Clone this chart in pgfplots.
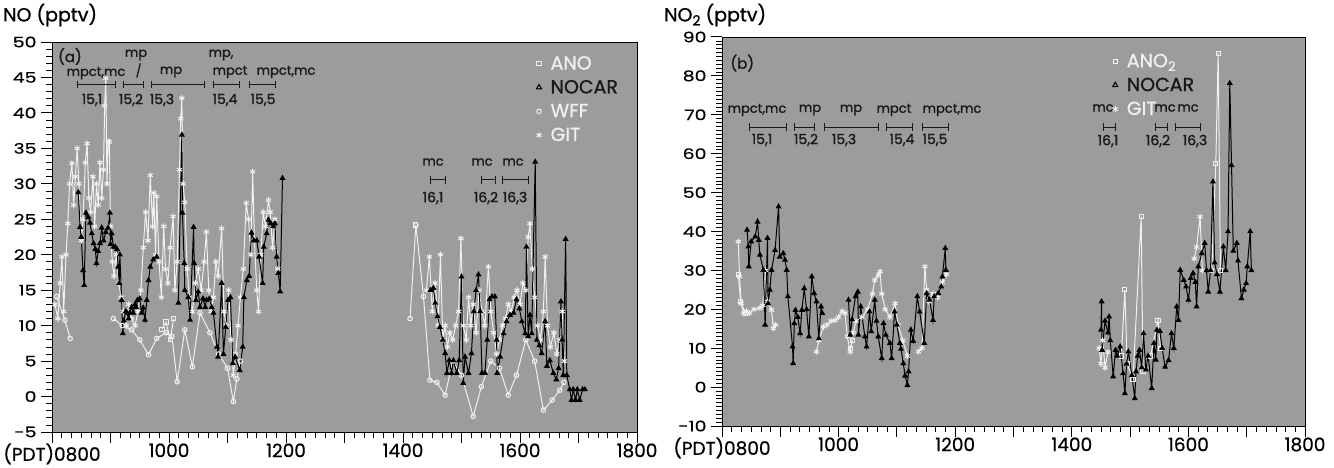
\documentclass[border=0pt]{standalone}
\usepackage{pgfplots}
\pgfplotsset{compat=1.18}
\usepackage{pgfplotstable}
\usepackage{fontspec}
\setmainfont{Poppins}
\newfontfamily\widefont{Poppins}[FakeStretch=1.3, FakeBold=0.6]
\newfontfamily\tickfont{Poppins}[FakeBold=0.6]
\newfontfamily\annfont{Poppins}[FakeBold=1.2]
\newfontfamily\legfont{Poppins}[FakeBold=1.0]
\definecolor{bg}{RGB}{156,156,156}
\definecolor{wl}{RGB}{240,240,240}
\definecolor{ink}{RGB}{25,25,25}

% ---------------- panel (a) data ----------------
\pgfplotstableread{
t v
8.45 28.8
8.48 23.9
8.50 22.5
8.53 17.8
8.55 15.7
8.58 25.9
8.62 25.3
8.65 24.5
8.68 23.0
8.71 21.6
8.74 20.8
8.76 18.8
8.79 20.5
8.82 21.6
8.85 23.8
8.88 22.0
8.92 23.2
8.96 23.8
8.99 25.9
9.00 21.5
9.02 23.0
9.05 21.1
9.08 21.1
9.11 20.8
9.13 18.3
9.15 16.0
9.16 20.0
9.19 13.6
9.21 8.9
9.23 10.7
9.26 12.0
9.28 11.8
9.31 11.0
9.33 11.8
9.36 12.6
9.39 11.8
9.42 13.0
9.44 12.6
9.46 13.6
9.50 13.8
9.53 11.8
9.56 12.5
9.59 10.8
9.62 13.6
9.65 16.4
9.68 18.3
9.73 19.3
9.79 19.7
nan nan
10.16 13.2
10.22 36.9
10.23 25.9
10.26 18.8
10.27 15.0
10.33 14.0
10.36 10.8
10.42 23.9
10.43 18.8
10.46 13.6
10.50 14.8
10.53 12.6
10.58 13.8
10.62 12.6
10.64 13.6
10.69 13.8
10.73 12.6
10.76 11.8
10.82 7.0
10.84 5.6
10.90 16.0
10.93 6.0
10.97 9.8
11.01 13.6
11.05 14.0
11.09 4.7
11.13 5.6
11.21 3.7
11.26 7.0
11.28 14.0
11.33 16.4
11.37 17.0
11.41 23.1
11.45 22.0
11.50 22.0
11.54 19.7
11.60 16.0
11.62 21.1
11.67 23.0
11.70 24.9
11.74 24.4
11.78 24.0
11.81 24.4
11.84 19.7
11.87 17.4
11.90 14.8
11.94 30.8
nan nan
14.47 15.0
14.52 15.3
14.55 13.2
14.59 11.3
14.63 9.8
14.68 8.0
14.72 6.1
14.75 3.3
14.79 5.1
14.83 3.3
14.86 5.1
14.92 3.3
14.96 5.1
15.00 16.9
15.03 1.9
15.06 5.6
15.12 3.3
15.17 6.1
15.21 12.0
15.25 15.0
15.29 17.2
15.32 12.0
15.35 3.3
15.40 3.3
15.44 8.0
15.48 13.7
15.52 14.1
15.57 14.1
15.60 8.0
15.61 3.3
15.66 5.6
15.72 8.9
15.77 10.6
15.83 11.5
15.89 11.8
15.94 13.7
15.99 12.4
16.03 10.6
16.09 8.9
16.11 21.1
16.14 8.5
16.17 11.5
16.20 8.9
16.26 33.1
16.29 8.0
16.33 7.2
16.37 6.1
16.43 10.6
16.46 4.3
16.51 5.1
16.57 3.3
16.62 2.4
16.66 4.0
16.70 13.4
16.72 8.0
16.74 3.0
16.78 22.2
16.80 3.0
16.85 1.0
16.88 -0.5
16.91 1.0
16.95 -0.5
16.98 1.0
17.02 -0.5
17.07 1.0
17.11 1.0
}\nocara

\pgfplotstableread{
t v
8.05 13
8.10 11
8.14 16
8.17 19.7
8.20 12
8.24 20
8.27 24.4
8.30 30
8.34 32.9
8.37 27
8.40 31
8.43 35
8.46 30
8.50 22
8.53 25
8.57 33
8.60 35.7
8.63 28
8.66 26
8.70 31
8.73 24
8.76 30
8.79 27
8.82 33
8.85 28
8.88 32
8.90 41
8.92 44.9
8.94 30
8.96 36
8.98 35.9
9.00 24
9.03 19
9.06 17
9.10 20
9.14 16
9.18 14
9.22 12
9.27 10
9.31 13
9.36 11
9.42 10
9.47 12
9.52 15
9.56 21
9.60 26
9.64 22
9.68 31.2
9.72 24
9.74 28.7
9.77 20
9.79 28.2
9.83 19
9.87 14
9.91 24
9.94 18
9.98 16
10.02 21
10.07 25.4
10.10 15
10.14 19
10.18 32
10.20 39.2
10.22 42.1
10.24 30
10.27 27.4
10.31 18
10.35 14
10.40 12
10.45 16
10.50 18
10.55 15
10.60 19
10.64 23.2
10.68 15
10.72 12
10.76 14
10.80 19
10.84 17
10.90 23.7
10.94 12
10.98 10
11.02 15
11.06 8
11.10 3
11.14 6
11.18 10
11.22 14
11.27 18
11.32 27.3
11.36 25
11.40 20
11.43 31.7
11.46 22
11.50 15
11.53 12
11.57 20
11.61 26
11.65 24
11.70 27.7
11.73 26
11.77 21
11.81 25
11.86 18
nan nan
14.40 15
14.45 19.7
14.50 12
14.55 16
14.60 10
14.64 20
14.68 8
14.72 10
14.76 7
14.80 9
14.85 8
14.90 10
14.95 12
14.99 22.3
15.03 10
15.08 8
15.12 14
15.16 10
15.20 13
15.25 9
15.30 15
15.35 12
15.40 10
15.46 18.3
15.50 12
15.55 9
15.60 6
15.65 8
15.70 10
15.75 11
15.80 13
15.85 12
15.90 14
15.95 15
16.00 13
16.05 16
16.10 15
16.14 22.5
16.17 24.4
16.21 18
16.25 14
16.30 10
16.35 8
16.40 12
16.43 19.7
16.47 10
16.52 7
16.58 9
16.63 6
16.68 8
16.72 12
16.76 5
}\gita

\pgfplotstableread{
t v
8.08 14.1
8.22 10.8
8.31 8.2
nan nan
9.05 11.0
9.20 10.0
9.36 9.4
9.50 8.0
9.65 5.9
9.79 8.2
9.95 9.0
10.05 8.5
10.14 2.1
10.27 9.4
10.40 4.2
10.53 11.8
10.70 9.0
10.85 6.0
11.00 4.0
11.10 -0.7
11.16 2.5
11.22 5.0
nan nan
14.12 11.0
14.22 24.2
14.35 14.1
14.46 2.3
14.58 2.0
14.72 0.2
14.85 5.0
15.00 3.0
15.20 -2.8
15.34 1.4
15.50 5.0
15.65 4.0
15.80 0.2
15.94 3.0
16.10 8.0
16.25 5.0
16.40 -1.9
16.55 -0.5
16.68 0.9
16.75 2.0
}\wffa

\pgfplotstableread{
t v
9.88 9.5
9.95 10.5
10.02 8.0
10.08 11.0
nan nan
14.22 24.2
}\anoa

% ---------------- panel (b) data ----------------
\pgfplotstableread{
t v
8.43 40.4
8.45 36.1
8.46 31.0
8.50 37.4
8.57 38.7
8.61 42.5
8.63 37.8
8.65 34.0
8.71 30.1
8.74 16.0
8.78 38.3
8.79 21.5
8.82 25.0
8.85 30.1
8.91 35.2
8.97 46.4
8.99 33.5
9.05 34.4
9.08 32.7
9.11 30.1
9.13 23.3
9.21 10.4
9.22 6.1
9.24 16.4
9.26 19.8
9.30 18.0
9.34 13.8
9.37 19.8
9.41 25.4
9.45 20.0
9.49 13.0
9.54 28.4
9.58 24.1
9.62 22.0
9.66 12.5
9.70 20.7
9.72 19.0
nan nan
10.17 22.4
10.20 13.4
10.23 17.4
10.29 23.3
10.33 24.5
10.34 13.4
10.38 20.7
10.45 13.0
10.48 10.4
10.53 19.4
10.56 14.3
10.62 22.4
10.65 17.0
10.68 13.0
10.74 7.4
10.77 16.4
10.81 13.4
10.88 11.3
10.91 7.4
10.96 19.4
11.00 16.0
11.05 11.3
11.07 9.8
11.11 6.1
11.14 2.9
11.18 0.5
11.20 4.0
11.24 14.7
11.28 11.8
11.35 23.3
11.39 19.4
11.47 11.3
11.51 24.1
11.56 22.4
11.62 17.2
11.64 23.3
11.71 24.1
11.76 25.8
11.78 28.4
11.83 35.7
11.84 30.1
nan nan
14.50 14.7
14.51 22.0
14.52 9.5
14.57 17.0
14.62 14.0
14.64 18.1
14.66 12.0
14.71 2.7
14.75 9.5
14.78 8.0
14.83 10.4
14.88 3.5
14.91 -1.6
14.94 6.0
14.97 9.1
15.03 3.0
15.08 -2.9
15.10 4.0
15.13 8.0
15.16 9.5
15.20 5.0
15.23 13.8
15.27 4.5
15.31 8.0
15.37 -0.3
15.41 11.3
15.44 7.0
15.46 14.7
15.51 14.4
15.55 10.0
15.60 5.2
15.66 6.9
15.71 13.8
15.75 10.0
15.80 20.7
15.83 17.2
15.86 30.1
15.92 27.5
15.96 25.8
16.00 22.4
16.04 28.0
16.08 29.3
16.12 27.0
16.14 20.7
16.17 31.0
16.23 34.4
16.28 37.0
16.31 30.0
16.34 24.5
16.38 30.0
16.42 52.8
16.45 32.0
16.49 29.0
16.54 24.5
16.60 36.1
16.64 30.0
16.68 40.0
16.71 78.1
16.74 57.0
16.77 35.0
16.83 37.0
16.85 32.5
16.91 22.8
16.95 25.0
16.99 26.7
17.01 31.0
17.06 40.0
17.08 30.0
}\nocarb

\pgfplotstableread{
t v
8.28 37.4
8.30 28.4
8.33 21.5
8.37 19.0
8.42 19.5
8.47 19.0
8.55 20.0
8.65 20.3
8.70 21.0
8.75 30.0
8.78 22.0
8.85 19.8
8.88 15.1
8.92 16.0
nan nan
9.62 9.1
9.66 12.0
9.74 15.5
9.80 16.0
9.87 17.0
9.94 17.2
10.00 18.0
10.06 19.5
10.11 19.0
10.15 13.0
10.20 9.1
10.25 14.0
10.30 17.0
10.40 18.0
10.50 20.0
10.58 24.0
10.62 27.5
10.68 28.8
10.71 29.7
10.74 24.0
10.80 20.0
10.88 18.0
10.97 21.5
11.02 16.0
11.10 12.0
11.18 8.0
nan nan
11.37 9.1
11.43 10.0
11.48 31.0
11.51 25.1
11.55 22.0
11.62 24.0
11.70 23.0
11.78 27.0
11.85 29.0
nan nan
14.47 10.0
14.50 6.0
14.53 12.0
14.57 5.0
14.62 9.0
nan nan
16.10 33.0
16.14 36.0
16.20 43.8
16.24 30.0
}\gitb

\pgfplotstableread{
t v
8.28 29.0
8.32 22.0
8.40 19.0
nan nan
10.20 10.0
10.24 12.0
nan nan
14.85 8.0
14.91 25.0
14.95 6.0
15.05 2.0
15.19 43.8
15.22 4.0
15.35 8.0
15.48 17.2
15.52 10.0
nan nan
16.40 30.0
16.47 57.5
16.51 85.8
16.55 30.0
}\anob

\pgfplotsset{
  panel/.style={
    scale only axis,
    axis background/.style={fill=bg},
    tick align=outside, tick pos=left,
    xmin=8, xmax=18,
    xtick={8,...,18},
    xticklabels={(PDT)0800,,1000,,1200,,1400,,1600,,1800},
    minor x tick num=5,
    major tick length=11pt, minor tick length=6pt,
    /pgf/number format/assume math mode=true,
    x tick label style={font=\tickfont\fontsize{18.5}{19}\selectfont, yshift=3pt},
    y tick label style={font=\widefont\fontsize{14.5}{15}\selectfont, xshift=-1pt},
    unbounded coords=jump,
    axis line style={line width=0.9pt},
    major tick style={line width=1pt, black},
    minor tick style={line width=0.7pt, black},
    clip=true,
    legend style={draw=none, fill=none, font=\legfont\fontsize{19}{20}\selectfont,
      row sep=5pt, cells={anchor=west}, inner sep=1pt},
    legend cell align=left,
  },
  nocar/.style={black, line width=1pt, mark=triangle*, mark size=2.5pt, mark options={solid, fill=black}},
  git/.style={wl, line width=1pt, mark=asterisk, mark size=3pt, mark options={solid}},
  wff/.style={wl, line width=1pt, mark=o, mark size=2.3pt, mark options={solid}},
  ano/.style={wl, line width=1pt, mark=square, mark size=2.1pt, mark options={solid}},
}

\newcommand\flt[4]{% t1 t2 v tickhalf
  \draw[ink, line width=1pt] (axis cs:#1,#3) -- (axis cs:#2,#3);
  \draw[ink, line width=1pt] ([yshift=#4]axis cs:#1,#3) -- ([yshift=-#4]axis cs:#1,#3);
  \draw[ink, line width=1pt] ([yshift=#4]axis cs:#2,#3) -- ([yshift=-#4]axis cs:#2,#3);
}
\newcommand\ann[3]{\node[ink, font=\annfont\fontsize{13}{13}\selectfont, inner sep=0pt] at (axis cs:#1,#2) {#3};}
\newcommand\num[3]{\node[ink, font=\annfont\fontsize{14}{14}\selectfont, inner sep=0pt] at (axis cs:#1,#2) {#3};}

\begin{document}
\begin{tikzpicture}
\path[use as bounding box] (0,0) rectangle (1334pt,467pt);

% ================= panel (a) =================
\begin{axis}[panel,
  at={(52pt,35pt)}, anchor=south west, width=585pt, height=390pt,
  ymin=-5, ymax=50, ytick={-5,0,...,50}, minor y tick num=4,
  legend style={at={(0.826,0.972)}, anchor=north west},
]
\addlegendimage{ano, only marks}
\addlegendentry{\hspace{7pt}\textcolor{wl}{ANO}}
\addlegendimage{black, only marks, mark=triangle, mark size=3pt, line width=1pt}
\addlegendentry{\hspace{7pt}\textcolor{ink}{NOCAR}}
\addlegendimage{wff, only marks}
\addlegendentry{\hspace{7pt}\textcolor{wl}{WFF}}
\addlegendimage{git, only marks}
\addlegendentry{\hspace{7pt}\textcolor{wl}{GIT}}

\addplot[git, forget plot] table[x=t, y=v] {\gita};
\addplot[wff, forget plot] table[x=t, y=v] {\wffa};
\addplot[ano, forget plot] table[x=t, y=v] {\anoa};
\addplot[nocar, forget plot] table[x=t, y=v] {\nocara};

\node[ink, font=\annfont\fontsize{15}{15}\selectfont, anchor=north west, inner sep=0pt] at (rel axis cs:0.01,0.985) {(a)};

\flt{8.444}{9.077}{43.94}{3.5pt}
\flt{9.214}{9.556}{43.94}{3.5pt}
\flt{9.709}{10.615}{43.94}{3.5pt}
\flt{10.769}{11.197}{43.94}{3.5pt}
\flt{11.368}{11.829}{43.94}{3.5pt}
\ann{8.752}{45.6}{mpct,mc}
\ann{9.436}{48.17}{mp}
\ann{10.034}{45.77}{mp}
\ann{10.889}{48.17}{mp,}
\ann{11.043}{45.77}{mpct}
\ann{12.000}{45.77}{mpct,mc}
\num{8.684}{41.82}{15,1}
\num{9.350}{41.82}{15,2}
\num{9.880}{41.82}{15,3}
\num{10.957}{41.82}{15,4}
\num{11.607}{41.82}{15,5}
\draw[ink, line width=1.3pt] (axis cs:9.51,47.0) -- (axis cs:9.45,45.0);

\flt{14.462}{14.718}{30.54}{4pt}
\flt{15.350}{15.573}{30.54}{4pt}
\flt{15.709}{16.137}{30.54}{4pt}
\ann{14.513}{33.07}{mc}
\ann{15.350}{33.07}{mc}
\ann{15.880}{33.07}{mc}
\num{14.513}{28.0}{16,1}
\num{15.419}{28.0}{16,2}
\num{15.915}{28.0}{16,3}
\end{axis}

% ================= panel (b) =================
\begin{axis}[panel,
  at={(722pt,41pt)}, anchor=south west, width=583pt, height=389pt,
  ymin=-10, ymax=90, ytick={-10,0,...,90}, minor y tick num=9,
  legend style={at={(0.668,0.965)}, anchor=north west},
]
\addlegendimage{ano, only marks}
\addlegendentry{\hspace{7pt}\textcolor{wl}{ANO\textsubscript{2}}}
\addlegendimage{black, only marks, mark=triangle, mark size=3pt, line width=1pt}
\addlegendentry{\hspace{7pt}\textcolor{ink}{NOCAR}}
\addlegendimage{git, only marks}
\addlegendentry{\hspace{7pt}\textcolor{wl}{GIT}}

\addplot[git, forget plot] table[x=t, y=v] {\gitb};
\addplot[ano, forget plot] table[x=t, y=v] {\anob};
\addplot[nocar, forget plot] table[x=t, y=v] {\nocarb};

\node[ink, font=\annfont\fontsize{15}{15}\selectfont, anchor=north west, inner sep=0pt] at (rel axis cs:0.014,0.955) {(b)};

\flt{8.480}{9.098}{66.86}{4pt}
\flt{9.252}{9.595}{66.86}{4pt}
\flt{9.750}{10.676}{66.86}{4pt}
\flt{10.830}{11.259}{66.86}{4pt}
\flt{11.431}{11.877}{66.86}{4pt}
\ann{8.600}{71.23}{mpct,mc}
\ann{9.509}{71.23}{mp}
\ann{10.213}{71.23}{mp}
\ann{10.950}{71.23}{mpct}
\ann{11.945}{71.23}{mpct,mc}
\num{8.686}{63.52}{15,1}
\num{9.441}{63.52}{15,2}
\num{10.093}{63.52}{15,3}
\num{11.087}{63.52}{15,4}
\num{11.653}{63.52}{15,5}

\flt{14.535}{14.741}{66.86}{4pt}
\flt{15.427}{15.633}{66.86}{4pt}
\flt{15.787}{16.199}{66.86}{4pt}
\ann{14.535}{71.75}{mc}
\ann{15.599}{71.75}{mc}
\ann{15.993}{71.75}{mc}
\num{14.621}{63.26}{16,1}
\num{15.479}{63.26}{16,2}
\num{16.113}{63.26}{16,3}
\end{axis}

\node[anchor=west, font=\legfont\fontsize{19}{19}\selectfont, inner sep=0pt] at (3pt,452pt) {NO (pptv)};
\node[anchor=west, font=\legfont\fontsize{19}{19}\selectfont, inner sep=0pt] at (664pt,452pt) {NO\raisebox{-4pt}{\fontsize{14}{14}\selectfont 2} (pptv)};
\end{tikzpicture}
\end{document}
